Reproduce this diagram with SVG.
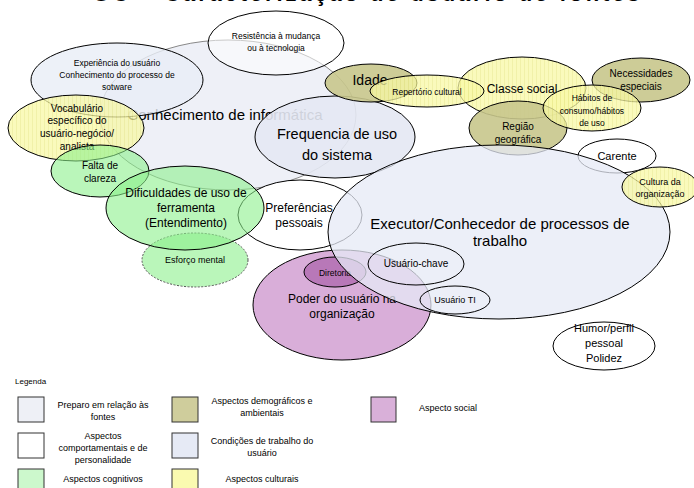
<svg xmlns="http://www.w3.org/2000/svg" width="694" height="488" viewBox="0 0 694 488">
<defs>
<pattern id="yel" width="4" height="4" patternUnits="userSpaceOnUse">
<rect width="4" height="4" fill="#f8f8a6"/>
<line x1="0.5" y1="0" x2="0.5" y2="4" stroke="#ecec8c" stroke-width="1"/>
</pattern>
</defs>
<style>
text{font-family:"Liberation Sans",Arial,sans-serif;fill:#000;text-anchor:middle}
.e{stroke:#000;stroke-width:1}
.blue{fill:#e9edf6;fill-opacity:0.8}
.white{fill:#fff;fill-opacity:0.55}
.green{fill:#8cf08c;fill-opacity:0.6}
.yel{fill:url(#yel);fill-opacity:0.75}
.olive{fill:#c8c68c;fill-opacity:0.9}
.purple{fill:#d9aed9}
.dir{fill:#b878b8}
.lg{stroke:#333;stroke-width:1}
.lt{font-size:9px}
</style>
<text x="366" y="0.5" font-size="22" font-weight="bold" textLength="547" lengthAdjust="spacing">GC – Caracterização de usuário de fontes</text>

<g id="conhecimento"><ellipse cx="228" cy="115" rx="128" ry="75" fill="#eef0f7" stroke="#888"/><text x="225" y="120" font-size="15" fill="#333">Conhecimento de informática</text></g>
<g id="resistencia"><ellipse class="e white" cx="276" cy="43" rx="68" ry="32"/><text x="276" y="39" font-size="8.5">Resistência à mudança</text><text x="276" y="51" font-size="8.5">ou à tecnologia</text></g>
<g id="experiencia"><ellipse class="e blue" cx="117" cy="80" rx="86" ry="37"/><text x="117" y="66" font-size="8.5">Experiência do usuário</text><text x="117" y="78" font-size="8.5">Conhecimento do processo de</text><text x="117" y="90" font-size="8.5">sotware</text></g>
<g id="vocabulario"><ellipse class="e yel" cx="76" cy="128" rx="68" ry="33"/><text x="77" y="112" font-size="10">Vocabulário</text><text x="77" y="124" font-size="10">específico do</text><text x="77" y="137" font-size="10">usuário-negócio/</text><text x="77" y="150" font-size="10">analista</text></g>
<g id="frequencia"><ellipse class="e" cx="335" cy="137" rx="80" ry="41" fill="#e4e8f3" fill-opacity="0.9"/><text x="337" y="139" font-size="14.5">Frequencia de uso</text><text x="337" y="160" font-size="14.5">do sistema</text></g>
<g id="preferencias"><ellipse class="e" cx="300" cy="215" rx="62" ry="35" fill="#fff"/><text x="299" y="212" font-size="12">Preferências</text><text x="299" y="227" font-size="12">pessoais</text></g>
<g id="falta"><ellipse class="e green" cx="100" cy="171" rx="49" ry="26"/><text x="100" y="169" font-size="10">Falta de</text><text x="100" y="182" font-size="10">clareza</text></g>
<g id="esforco"><ellipse class="green" cx="195" cy="260" rx="53" ry="27" stroke="#555" stroke-dasharray="2,1.5"/><text x="195" y="263" font-size="9">Esforço mental</text></g>
<g id="dificuldades"><ellipse class="e green" cx="185" cy="208" rx="79" ry="42"/><text x="186" y="197" font-size="12">Dificuldades de uso de</text><text x="186" y="212" font-size="12">ferramenta</text><text x="186" y="227" font-size="12">(Entendimento)</text></g>
<g id="idade"><ellipse class="e olive" cx="371" cy="83" rx="46" ry="19"/><text x="370" y="85" font-size="14">Idade</text></g>
<g id="classe"><ellipse class="e yel" cx="522" cy="88" rx="64" ry="31"/><text x="522" y="93" font-size="12">Classe social</text></g>
<g id="repertorio"><ellipse class="e yel" cx="427" cy="91" rx="57" ry="16"/><text x="427" y="95" font-size="8.5">Repertório cultural</text></g>
<g id="necessidades"><ellipse class="e olive" cx="641" cy="80" rx="49" ry="22"/><text x="641" y="77" font-size="10">Necessidades</text><text x="641" y="90" font-size="10">especiais</text></g>
<g id="regiao"><ellipse class="e olive" cx="518" cy="128" rx="49" ry="27"/><text x="518" y="130" font-size="10">Região</text><text x="518" y="143" font-size="10">geográfica</text></g>
<g id="habitos"><ellipse class="e yel" cx="592" cy="108" rx="49" ry="23"/><text x="592" y="101" font-size="8.5">Hábitos de</text><text x="592" y="114" font-size="8.5">consumo/hábitos</text><text x="592" y="126" font-size="8.5">de uso</text></g>
<g id="carente"><ellipse class="e" cx="617" cy="156" rx="39" ry="17" fill="#fff"/><text x="617" y="160" font-size="11">Carente</text></g>
<g id="poder"><ellipse class="e purple" cx="342" cy="305" rx="89" ry="55"/><text x="342" y="303" font-size="12">Poder do usuário na</text><text x="342" y="318" font-size="12">organização</text></g>
<g id="diretoria"><ellipse class="e dir" cx="335" cy="272" rx="31" ry="15"/><text x="335" y="276" font-size="8.5">Diretoria</text></g>
<g id="executor"><ellipse class="e" cx="499" cy="232" rx="171" ry="87" fill="#e6eaf5" fill-opacity="0.75"/><text x="500" y="229" font-size="15">Executor/Conhecedor de processos de</text><text x="500" y="246" font-size="15">trabalho</text></g>
<g id="usuario-chave"><ellipse class="e" cx="416" cy="264" rx="48" ry="21" fill="none"/><text x="416" y="267" font-size="10">Usuário-chave</text></g>
<g id="usuario-ti"><ellipse class="e" cx="455" cy="300" rx="35" ry="14" fill="none"/><text x="455" y="303" font-size="9">Usuário TI</text></g>
<g id="cultura"><ellipse class="e yel" cx="660" cy="187" rx="38" ry="20"/><text x="660" y="185" font-size="9">Cultura da</text><text x="660" y="197" font-size="9">organização</text></g>
<g id="humor"><ellipse class="e" cx="604" cy="346" rx="51" ry="24" fill="#fff"/><text x="604" y="332" font-size="11">Humor/perfil</text><text x="604" y="347" font-size="11">pessoal</text><text x="604" y="362" font-size="11">Polidez</text></g>

<g id="connectors"></g>

<g id="legenda">
<text x="15" y="384" font-size="8" style="text-anchor:start">Legenda</text>
<rect class="lg" x="18" y="397" width="26" height="25" fill="#eef0f6"/>
<text class="lt" x="103" y="408">Preparo em relação às</text><text class="lt" x="103" y="420">fontes</text>
<rect class="lg" x="18" y="433" width="26" height="25" fill="#fff"/>
<text class="lt" x="103" y="439">Aspectos</text><text class="lt" x="103" y="451">comportamentais e de</text><text class="lt" x="103" y="463">personalidade</text>
<rect class="lg" x="18" y="469" width="26" height="25" fill="#ccf8cc"/>
<text class="lt" x="103" y="482">Aspectos cognitivos</text>
<rect class="lg" x="172" y="397" width="26" height="25" fill="#cfcd9c"/>
<text class="lt" x="262" y="404">Aspectos demográficos e</text><text class="lt" x="262" y="416">ambientais</text>
<rect class="lg" x="172" y="433" width="26" height="25" fill="#e6eaf5"/>
<text class="lt" x="262" y="444">Condições de trabalho do</text><text class="lt" x="262" y="456">usuário</text>
<rect class="lg" x="172" y="469" width="26" height="25" fill="#fafab0"/>
<text class="lt" x="262" y="482">Aspectos culturais</text>
<rect class="lg" x="371" y="397" width="25" height="25" fill="#d9b0d9"/>
<text class="lt" x="448" y="411">Aspecto social</text>
</g>
</svg>
